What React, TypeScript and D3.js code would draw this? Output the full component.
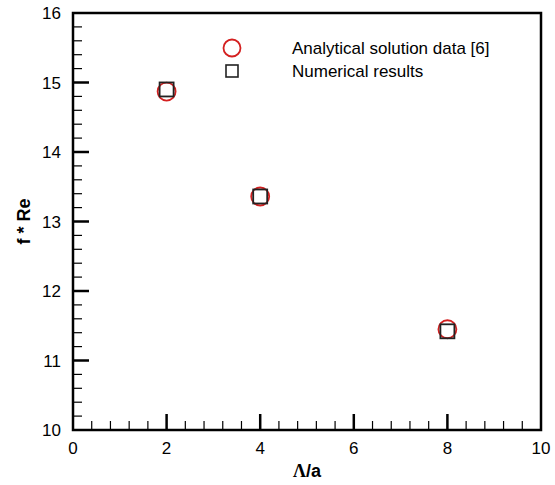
import React from "react";
import * as d3 from "d3";

const xTicks = [0, 2, 4, 6, 8, 10];
const yTicks = [10, 11, 12, 13, 14, 15, 16];
const analyticalX = [2, 4, 8];
const analyticalY = [14.87, 13.36, 11.45];
const numericalX = [2, 4, 8];
const numericalY = [14.9, 13.36, 11.42];
const legendLabels = ["Analytical solution data [6]", "Numerical results"];

export default function App() {
  const W = 555, H = 485;
  const m = { l: 73, r: 14, t: 13, b: 55 };
  const x = d3.scaleLinear().domain([0, 10]).range([m.l, W - m.r]);
  const y = d3.scaleLinear().domain([10, 16]).range([H - m.b, m.t]);
  const xMinor = d3.range(0, 10.001, 0.4).filter((v) => Math.abs(v / 2 - Math.round(v / 2)) > 1e-6);
  const yMinor = d3.range(10, 16.001, 0.2).filter((v) => Math.abs(v - Math.round(v)) > 1e-6);
  const font = "Liberation Sans, Arial, sans-serif";
  const sq = 14;
  return (
    <svg width={W} height={H} style={{ position: "absolute", left: 0, top: 0 }} fontFamily={font}>
      <rect x={0} y={0} width={W} height={H} fill="white" />
      {xTicks.map((t) => (
        <g key={"xt" + t}>
          {t > 0 && t < 10 && (
            <line x1={x(t)} x2={x(t)} y1={y(10)} y2={y(10) - 16} stroke="black" strokeWidth={2.5} />
          )}
          <text x={x(t)} y={y(10) + 24} textAnchor="middle" fontSize={17}>{t}</text>
        </g>
      ))}
      {xMinor.map((t) => (
        <line key={"xm" + t} x1={x(t)} x2={x(t)} y1={y(10)} y2={y(10) - 9} stroke="black" strokeWidth={1.2} />
      ))}
      {yTicks.map((t) => (
        <g key={"yt" + t}>
          {t > 10 && t < 16 && (
            <line x1={x(0)} x2={x(0) + 16} y1={y(t)} y2={y(t)} stroke="black" strokeWidth={2.5} />
          )}
          <text x={x(0) - 12} y={y(t) + 6} textAnchor="end" fontSize={17}>{t}</text>
        </g>
      ))}
      {yMinor.map((t) => (
        <line key={"ym" + t} x1={x(0)} x2={x(0) + 9} y1={y(t)} y2={y(t)} stroke="black" strokeWidth={1.2} />
      ))}
      <rect x={x(0)} y={y(16)} width={x(10) - x(0)} height={y(10) - y(16)} fill="none" stroke="black" strokeWidth={2.5} />
      {analyticalX.map((v, i) => (
        <circle key={"a" + i} cx={x(v)} cy={y(analyticalY[i])} r={9} fill="none" stroke="#d42020" strokeWidth={1.8} />
      ))}
      {numericalX.map((v, i) => (
        <rect key={"n" + i} x={x(v) - sq / 2} y={y(numericalY[i]) - sq / 2} width={sq} height={sq} fill="none" stroke="#222" strokeWidth={1.8} />
      ))}
      <circle cx={232} cy={48} r={8.5} fill="none" stroke="#d42020" strokeWidth={1.8} />
      <rect x={226} y={65} width={12} height={12} fill="none" stroke="#222" strokeWidth={1.6} />
      <text x={292} y={54} fontSize={17}>{legendLabels[0]}</text>
      <text x={292} y={77} fontSize={17}>{legendLabels[1]}</text>
      <text x={307} y={477} textAnchor="middle" fontSize={18} fontWeight="bold">
        <tspan fontFamily="Liberation Serif, Times New Roman, serif">Λ</tspan>/a
      </text>
      <text transform={`translate(30,${(y(10) + y(16)) / 2}) rotate(-90)`} textAnchor="middle" fontSize={18} fontWeight="bold">f * Re</text>
    </svg>
  );
}
